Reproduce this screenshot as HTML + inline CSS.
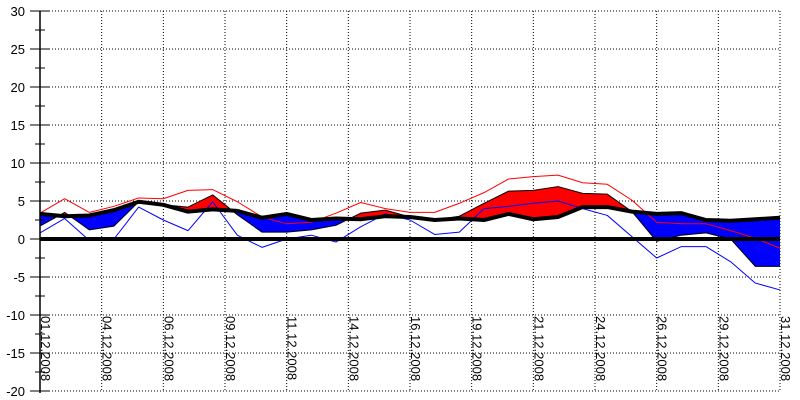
<!DOCTYPE html>
<html><head><meta charset="utf-8"><style>
html,body{margin:0;padding:0;background:#fff;}
svg{display:block;font-family:"Liberation Sans",Arial,sans-serif;}
</style></head><body>
<svg id="chart" width="800" height="400" viewBox="0 0 800 400" xmlns="http://www.w3.org/2000/svg">
<defs>
<clipPath id="clipAbove"><path id="abovePath" d=""/></clipPath>
<clipPath id="clipBelow"><path id="belowPath" d=""/></clipPath>
</defs>
<g id="grid"></g>
<g id="fills"></g>
<g id="lines"></g>
<g id="axes"></g>
</svg>
<script>
const days = [1,2,3,4,5,6,7,8,9,10,11,12,13,14,15,16,17,18,19,20,21,22,23,24,25,26,27,28,29,30,31];
const meanTemp = [1.7,3.5,1.2,1.7,4.9,4.5,4.2,5.8,3.2,0.9,0.9,1.2,1.8,3.4,3.8,2.9,2.5,3.0,4.7,6.3,6.4,6.9,6.0,5.9,3.6,-0.3,0.5,0.8,0.0,-3.6,-3.6];
const normTemp = [3.3,3.0,3.1,3.8,4.9,4.5,3.6,3.9,3.7,2.8,3.3,2.5,2.7,2.6,3.0,2.9,2.5,2.7,2.5,3.3,2.6,2.9,4.2,4.2,3.6,3.3,3.4,2.5,2.4,2.6,2.8];
const maxTemp = [3.4,5.3,3.5,4.3,5.4,5.3,6.4,6.5,4.9,2.9,2.0,2.2,3.4,4.8,4.0,3.5,3.5,4.7,6.1,7.9,8.2,8.4,7.4,7.2,5.1,2.2,2.0,2.0,1.1,0.1,-1.2];
const minTemp = [0.8,2.7,-0.2,0.0,4.2,2.5,1.1,4.9,0.5,-1.1,0.0,0.5,-0.4,1.6,3.3,2.5,0.6,0.9,4.0,4.3,4.7,5.0,4.0,3.1,0.3,-2.5,-1.0,-1.0,-3.0,-5.8,-6.7];
const yTicks = [30,25,20,15,10,5,0,-5,-10,-15,-20];
const xTickLabels = ["01.12.2008","04.12.2008","06.12.2008","09.12.2008","11.12.2008","14.12.2008","16.12.2008","19.12.2008","21.12.2008","24.12.2008","26.12.2008","29.12.2008","31.12.2008"];

const NS="http://www.w3.org/2000/svg";
const X0=40,X1=780,Y0=239,PX=7.6;
const xs=d=>X0+(d-1)*(X1-X0)/30;
const ys=v=>Y0-v*PX;
function mk(tag,attrs,parent){const e=document.createElementNS(NS,tag);for(const k in attrs)e.setAttribute(k,attrs[k]);parent.appendChild(e);return e;}
const grid=document.getElementById('grid'),axes=document.getElementById('axes'),fills=document.getElementById('fills'),lines=document.getElementById('lines');

yTicks.forEach(v=>{
  const y=ys(v);
  const g=mk('line',{x1:X0,x2:X1,y1:y,y2:y,stroke:'#000','stroke-width':1,'stroke-dasharray':'1,2'},grid);
  
  
  const t=mk('line',{x1:30,x2:50,y1:y,y2:y,stroke:'#000','stroke-width':1},axes);
  
  
  const l=mk('text',{x:25,y:y+5,'text-anchor':'end','font-size':13,fill:'#000'},axes);
  l.textContent=v;
  
  
  if(v>-20){const m=mk('line',{x1:35,x2:45,y1:ys(v-2.5),y2:ys(v-2.5),stroke:'#000','stroke-width':1},axes);
  
  }
});
xTickLabels.forEach((s,i)=>{
  const x=X0+i*(X1-X0)/12;
  if(i>0){const g=mk('line',{x1:x,x2:x,y1:ys(30),y2:ys(-20),stroke:'#000','stroke-width':1,'stroke-dasharray':'1,2'},grid);
  
  }
  const t=mk('text',{x:0,y:0,'font-size':13,fill:'#000',transform:`translate(${x+1},316) rotate(90)`},axes);
  t.textContent=s;
  
  
});
const normPts=days.map((d,i)=>[xs(d),ys(normTemp[i])]);
const meanPts=days.map((d,i)=>[xs(d),ys(meanTemp[i])]);
const ptsStr=p=>p.map(q=>q[0].toFixed(1)+','+q[1].toFixed(1)).join(' L');
document.getElementById('abovePath').setAttribute('d','M'+X0+',0 L'+ptsStr(normPts)+' L'+X1+',0 Z');
document.getElementById('belowPath').setAttribute('d','M'+X0+',400 L'+ptsStr(normPts)+' L'+X1+',400 Z');
const band='M'+ptsStr(meanPts)+' L'+ptsStr(normPts.slice().reverse())+' Z';
const red=mk('path',{d:band,fill:'#ff0000','clip-path':'url(#clipAbove)'},fills);


const blue=mk('path',{d:band,fill:'#0000ff','clip-path':'url(#clipBelow)'},fills);


function poly(vals,color,w,name){
  const p=mk('polyline',{points:days.map((d,i)=>xs(d)+','+ys(vals[i])).join(' '),fill:'none',stroke:color,'stroke-width':w,'stroke-linejoin':'round'},lines);
  
  
}
poly(meanTemp,'#000',1,'mean-temperature-line');
poly(maxTemp,'#ff0000',1,'max-temperature-line');
poly(minTemp,'#0000ff',1,'min-temperature-line');
poly(normTemp,'#000',4,'normal-temperature-line');
const z=mk('line',{x1:X0,x2:X1,y1:ys(0),y2:ys(0),stroke:'#000','stroke-width':4},axes);


const ya=mk('line',{x1:X0,x2:X0,y1:ys(30),y2:ys(-20)+2,stroke:'#000','stroke-width':1.5},axes);


</script>
</body></html>
